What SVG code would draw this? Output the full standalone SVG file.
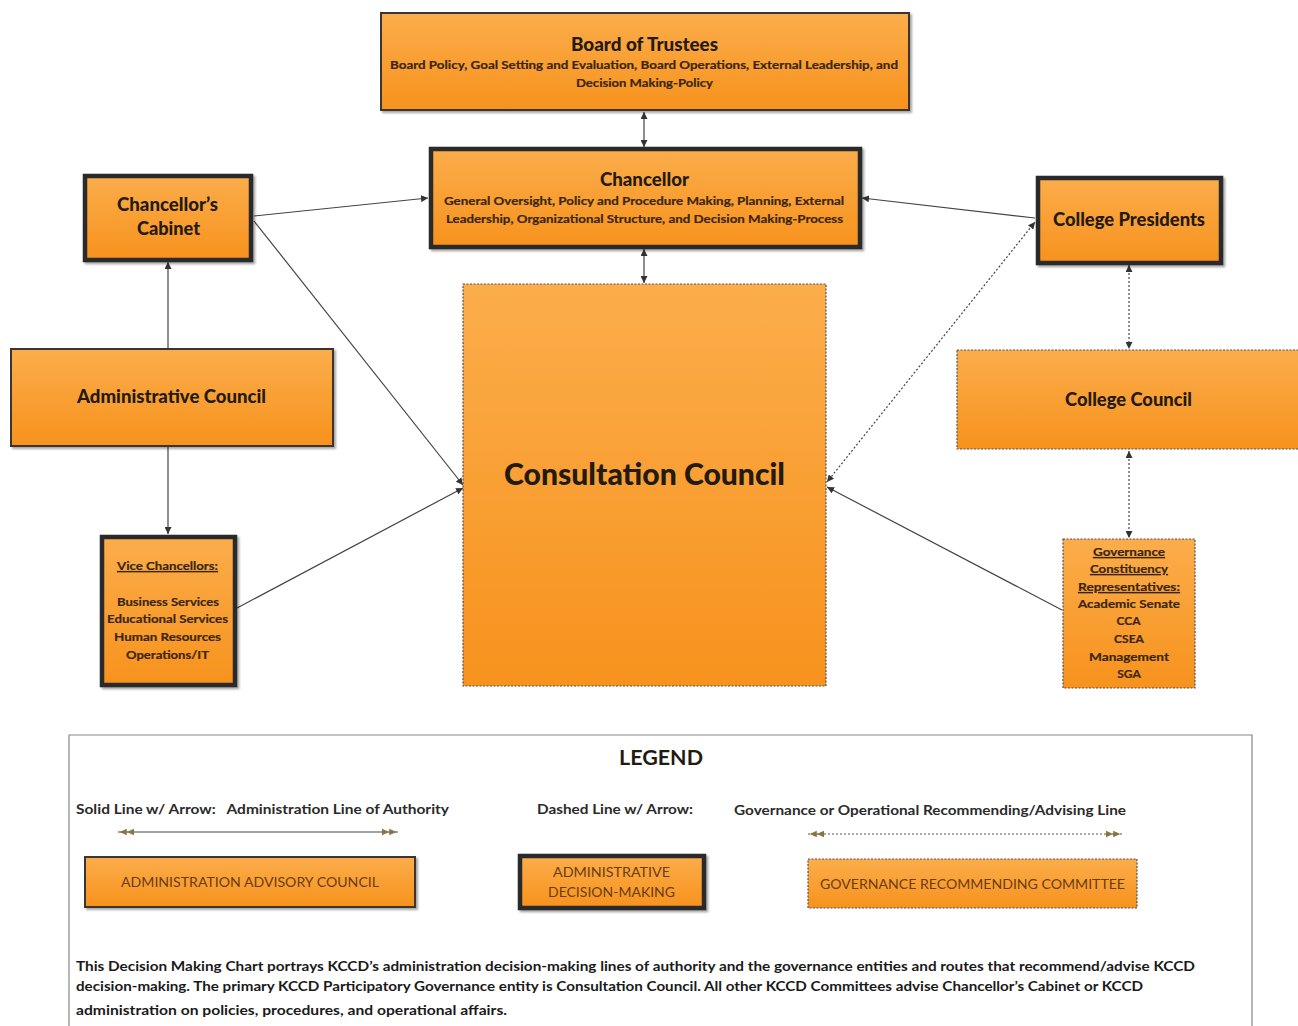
<svg xmlns="http://www.w3.org/2000/svg" width="1298" height="1026" viewBox="0 0 1298 1026">
<defs>
<linearGradient id="og" x1="0" y1="0" x2="0" y2="1">
<stop offset="0" stop-color="#FBAD4B"/>
<stop offset="1" stop-color="#F7921D"/>
</linearGradient>
<filter id="sh" x="-5%" y="-5%" width="115%" height="115%">
<feDropShadow dx="2" dy="2" stdDeviation="1.2" flood-color="#000" flood-opacity="0.35"/>
</filter>
<marker id="ah" viewBox="0 0 10 10" refX="10" refY="5" markerWidth="7" markerHeight="7" markerUnits="userSpaceOnUse" orient="auto-start-reverse">
<path d="M0,0 L10,5 L0,10 z" fill="#333"/>
</marker>
<marker id="lg" viewBox="0 0 20 10" refX="20" refY="5" markerWidth="16" markerHeight="8" markerUnits="userSpaceOnUse" orient="auto-start-reverse">
<path d="M0,1 L9,5 L0,9 z M9,1 L18,5 L9,9 z" fill="#8a7440"/>
</marker>
</defs>
<style>
text{font-family:"Lato","Liberation Sans",sans-serif;fill:#231a10}
.b{font-weight:900}
.t{font-size:18px;font-weight:900}
.s{font-size:12px;font-weight:bold;fill:#3a2610;stroke:#3a2610;stroke-width:0.2}
.thin{fill:url(#og);stroke:#3a3530;stroke-width:2}
.thick{fill:url(#og);stroke:#2a2a2a;stroke-width:4.5}
.dash{fill:url(#og);stroke:#555;stroke-width:1.2;stroke-dasharray:2,1.5}
.sol{stroke:#444;stroke-width:1.2;fill:none;marker-end:url(#ah)}
.dot{stroke:#444;stroke-width:1.2;fill:none;stroke-dasharray:2,2;marker-start:url(#ah);marker-end:url(#ah)}
.leg{font-size:14px;font-weight:bold;fill:#2a2a2a}
.lb{font-size:14px;fill:#6a3c12}
.p{font-size:13px;font-weight:bold;fill:#1a1a1a}
</style>
<rect width="1298" height="1026" fill="#fff"/>

<g id="connectors">
<line class="sol" x1="644" y1="112" x2="644" y2="147" marker-start="url(#ah)"/>
<line class="sol" x1="644" y1="249" x2="644" y2="283" marker-start="url(#ah)"/>
<line class="sol" x1="254" y1="216" x2="428" y2="198"/>
<line class="sol" x1="254" y1="221" x2="463" y2="485"/>
<line class="sol" x1="168" y1="348" x2="168" y2="262"/>
<line class="sol" x1="168" y1="447" x2="168" y2="534"/>
<line class="sol" x1="237" y1="608" x2="463" y2="488"/>
<line class="sol" x1="1035" y1="218" x2="862" y2="198"/>
<line class="dot" x1="1035" y1="222" x2="827" y2="482"/>
<line class="sol" x1="1062" y1="610" x2="827" y2="487"/>
<line class="dot" x1="1129" y1="265" x2="1129" y2="349"/>
<line class="dot" x1="1129" y1="451" x2="1129" y2="538"/>
</g>

<g id="board">
<rect class="thin" x="381" y="13" width="528" height="97" filter="url(#sh)"/>
<text x="644.5" y="51" text-anchor="middle" font-size="18" class="b" textLength="147" lengthAdjust="spacingAndGlyphs">Board of Trustees</text>
<text class="s" x="644" y="69" text-anchor="middle" textLength="508" lengthAdjust="spacingAndGlyphs">Board Policy, Goal Setting and Evaluation, Board Operations, External Leadership, and</text>
<text class="s" x="644.5" y="87" text-anchor="middle" textLength="137" lengthAdjust="spacingAndGlyphs">Decision Making-Policy</text>
</g>

<g id="chancellor">
<rect class="thick" x="431" y="149" width="429" height="98" filter="url(#sh)"/>
<text x="644.5" y="186" text-anchor="middle" font-size="18" class="b" textLength="89" lengthAdjust="spacingAndGlyphs">Chancellor</text>
<text class="s" x="644" y="205" text-anchor="middle" textLength="400" lengthAdjust="spacingAndGlyphs">General Oversight, Policy and Procedure Making, Planning, External</text>
<text class="s" x="644.5" y="223" text-anchor="middle" textLength="397" lengthAdjust="spacingAndGlyphs">Leadership, Organizational Structure, and Decision Making-Process</text>
</g>

<g id="cabinet">
<rect class="thick" x="85" y="176" width="166" height="84" filter="url(#sh)"/>
<text class="t" x="167.5" y="211" text-anchor="middle" textLength="101" lengthAdjust="spacingAndGlyphs">Chancellor’s</text>
<text class="t" x="168.5" y="235" text-anchor="middle" textLength="63" lengthAdjust="spacingAndGlyphs">Cabinet</text>
</g>

<g id="admin-council">
<rect class="thin" x="11" y="349" width="322" height="97" filter="url(#sh)"/>
<text class="t" x="171.5" y="403" text-anchor="middle" textLength="189" lengthAdjust="spacingAndGlyphs">Administrative Council</text>
</g>

<g id="vice-chancellors">
<rect class="thick" x="102" y="537" width="133" height="148" filter="url(#sh)"/>
<text class="s" x="167.5" y="570" text-anchor="middle" text-decoration="underline" textLength="101" lengthAdjust="spacingAndGlyphs">Vice Chancellors:</text>
<text class="s" x="168" y="606" text-anchor="middle" textLength="102" lengthAdjust="spacingAndGlyphs">Business Services</text>
<text class="s" x="167.5" y="623" text-anchor="middle" textLength="121" lengthAdjust="spacingAndGlyphs">Educational Services</text>
<text class="s" x="167.5" y="641" text-anchor="middle" textLength="107" lengthAdjust="spacingAndGlyphs">Human Resources</text>
<text class="s" x="167.5" y="659" text-anchor="middle" textLength="83" lengthAdjust="spacingAndGlyphs">Operations/IT</text>
</g>

<g id="consultation-council">
<rect class="dash" x="463" y="284" width="363" height="402"/>
<text x="644.5" y="485" text-anchor="middle" font-size="30" class="b" textLength="281" lengthAdjust="spacingAndGlyphs">Consultation Council</text>
</g>

<g id="college-presidents">
<rect class="thick" x="1038" y="178" width="183" height="85" filter="url(#sh)"/>
<text class="t" x="1129" y="226" text-anchor="middle" textLength="152" lengthAdjust="spacingAndGlyphs">College Presidents</text>
</g>

<g id="college-council">
<rect class="dash" x="957" y="350" width="345" height="99"/>
<text class="t" x="1128.5" y="406" text-anchor="middle" textLength="127" lengthAdjust="spacingAndGlyphs">College Council</text>
</g>

<g id="governance-reps">
<rect class="dash" x="1063" y="539" width="132" height="149"/>
<text class="s" x="1129" y="556" text-anchor="middle" text-decoration="underline" textLength="72" lengthAdjust="spacingAndGlyphs">Governance</text>
<text class="s" x="1129" y="573" text-anchor="middle" text-decoration="underline" textLength="78" lengthAdjust="spacingAndGlyphs">Constituency</text>
<text class="s" x="1129" y="591" text-anchor="middle" text-decoration="underline" textLength="102" lengthAdjust="spacingAndGlyphs">Representatives:</text>
<text class="s" x="1129" y="608" text-anchor="middle" textLength="102" lengthAdjust="spacingAndGlyphs">Academic Senate</text>
<text class="s" x="1128.5" y="625" text-anchor="middle">CCA</text>
<text class="s" x="1129" y="643" text-anchor="middle">CSEA</text>
<text class="s" x="1129" y="661" text-anchor="middle" textLength="80" lengthAdjust="spacingAndGlyphs">Management</text>
<text class="s" x="1129" y="678" text-anchor="middle">SGA</text>
</g>

<g id="legend">
<path d="M69,1026 V735 H1252 V1026" fill="none" stroke="#888" stroke-width="1.2"/>
<text x="661" y="765" text-anchor="middle" font-size="20" font-weight="bold" fill="#222" textLength="84" lengthAdjust="spacingAndGlyphs">LEGEND</text>
<text class="leg" x="76" y="814" textLength="373" lengthAdjust="spacingAndGlyphs" xml:space="preserve">Solid Line w/ Arrow:   Administration Line of Authority</text>
<line x1="118" y1="832" x2="398" y2="832" stroke="#444" stroke-width="1.2" marker-start="url(#lg)" marker-end="url(#lg)"/>
<text class="leg" x="537" y="814" textLength="156" lengthAdjust="spacingAndGlyphs">Dashed Line w/ Arrow:</text>
<text class="leg" x="734" y="815" textLength="392" lengthAdjust="spacingAndGlyphs">Governance or Operational Recommending/Advising Line</text>
<line x1="808" y1="834" x2="1122" y2="834" stroke="#555" stroke-width="1.2" stroke-dasharray="2,2" marker-start="url(#lg)" marker-end="url(#lg)"/>
<rect class="thin" x="85" y="857" width="330" height="50" stroke-width="2.5" filter="url(#sh)"/>
<text class="lb" x="250" y="887" text-anchor="middle" textLength="258" lengthAdjust="spacingAndGlyphs">ADMINISTRATION ADVISORY COUNCIL</text>
<rect class="thick" x="520" y="856" width="184" height="52" filter="url(#sh)"/>
<text class="lb" x="611.5" y="877" text-anchor="middle" textLength="117" lengthAdjust="spacingAndGlyphs">ADMINISTRATIVE</text>
<text class="lb" x="611.5" y="897" text-anchor="middle" textLength="127" lengthAdjust="spacingAndGlyphs">DECISION-MAKING</text>
<rect class="dash" x="808" y="859" width="329" height="49"/>
<text class="lb" x="972.5" y="889" text-anchor="middle" textLength="305" lengthAdjust="spacingAndGlyphs">GOVERNANCE RECOMMENDING COMMITTEE</text>
<text class="p" x="76" y="971" textLength="1119" lengthAdjust="spacingAndGlyphs">This Decision Making Chart portrays KCCD’s administration decision-making lines of authority and the governance entities and routes that recommend/advise KCCD</text>
<text class="p" x="76" y="991" textLength="1067" lengthAdjust="spacingAndGlyphs">decision-making. The primary KCCD Participatory Governance entity is Consultation Council.  All other KCCD Committees advise Chancellor’s Cabinet or KCCD</text>
<text class="p" x="76" y="1015" textLength="431" lengthAdjust="spacingAndGlyphs">administration on policies, procedures, and operational affairs.</text>
</g>
</svg>
